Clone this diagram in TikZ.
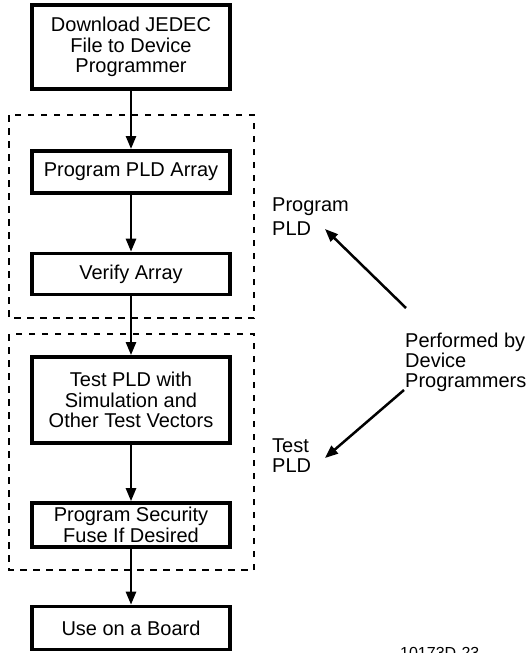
\documentclass[tikz,border=0pt]{standalone}
\usepackage{fontspec}
\setmainfont{Liberation Sans}
\usetikzlibrary{arrows.meta}
\tikzset{
  flowbox/.style={draw, rectangle, inner sep=0pt, line width=3.6pt, minimum width=198pt,
    align=center, font=\fontsize{20}{20.5}\selectfont},
  flowarrow/.style={line width=2.5pt, -{Triangle[length=13pt,width=10pt]}},
  dashbox/.style={line width=2.8pt, dash pattern=on 6.5pt off 6.5pt},
  sidelabel/.style={align=left, inner sep=0pt, font=\fontsize{20}{20}\selectfont},
  sidearrow/.style={line width=2.5pt, -{Triangle[length=13pt,width=10pt]}}
}
\begin{document}
\begin{tikzpicture}[x=1pt,y=-1pt]
\useasboundingbox (0,0) rectangle (532,653);
% dashed groups
\draw[dashbox] (9,115) rectangle (254,318);
\draw[dashbox] (9,334) rectangle (254,570);
% boxes
\node[flowbox, line width=4.2pt, minimum height=84pt] (dl) at (131,47) {Download JEDEC\\File to Device\\Programmer};
\node[flowbox, line width=4pt, minimum height=42pt] (pa) at (131,172) {Program PLD Array};
\node[flowbox, minimum height=41pt] (va) at (131,274) {Verify Array};
\node[flowbox, line width=3.8pt, minimum height=86pt] (tp) at (131,400) {Test PLD with\\Simulation and\\Other Test Vectors};
\node[flowbox, minimum height=44pt] (ps) at (131,525) {Program Security\\Fuse If Desired};
\node[flowbox, minimum height=43pt] (ub) at (131,628) {Use on a Board};
% arrows
\draw[flowarrow] (dl) -- (pa);
\draw[flowarrow] (pa) -- (va);
\draw[flowarrow] (va) -- (tp);
\draw[flowarrow] (tp) -- (ps);
\draw[flowarrow] (ps) -- (ub);
% side labels
\node[sidelabel, anchor=base west] (prog) at (272,211) {Program};
\node[sidelabel, anchor=base west] (progb) at (272,235) {PLD};
\node[sidelabel, anchor=base west] (perf) at (405,387) {Performed by\\Device\\Programmers};
\node[sidelabel, anchor=base west] (test) at (272,472) {Test\\PLD};
\node[anchor=base west, inner sep=0pt, font=\fontsize{16}{16}\selectfont] (fig) at (400,658.5) {10173D-23};
\coordinate (up0) at (406,308);
\coordinate (up1) at (325,229);
\coordinate (dn0) at (404,390);
\coordinate (dn1) at (325,458);
\draw[sidearrow] (up0) -- (up1);
\draw[sidearrow] (dn0) -- (dn1);
\end{tikzpicture}
\end{document}
